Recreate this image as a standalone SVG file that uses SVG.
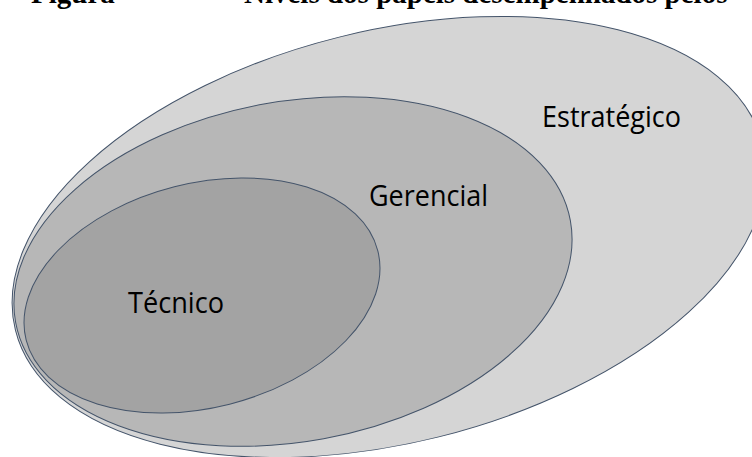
<svg xmlns="http://www.w3.org/2000/svg" width="752" height="457" viewBox="0 0 752 457">
<style>
.ell{stroke:#44546a;stroke-width:1}
.lbl{font-family:"Open Sans","Liberation Sans",sans-serif;font-size:29px;fill:#000}
.title{font-family:"Liberation Serif","Times New Roman",serif;font-size:29px;font-weight:bold;fill:#000}
</style>
<rect width="752" height="457" fill="#fff"/>
<text class="title" x="31" y="3">Figura<tspan x="244">Níveis dos papéis desempenhados pelos</tspan></text>
<g id="estrategico">
<ellipse class="ell" cx="389" cy="237" rx="385" ry="206" transform="rotate(-14 389 237)" fill="#d5d5d5"/>
<text class="lbl" x="542" y="127" textLength="139" lengthAdjust="spacingAndGlyphs">Estratégico</text>
</g>
<g id="gerencial">
<ellipse class="ell" cx="293" cy="271.5" rx="282" ry="170" transform="rotate(-10.4 293 271.5)" fill="#b7b7b7"/>
<text class="lbl" x="369" y="206" textLength="119" lengthAdjust="spacingAndGlyphs">Gerencial</text>
</g>
<g id="tecnico">
<ellipse class="ell" cx="202" cy="295.5" rx="181.4" ry="112.1" transform="rotate(-14.25 202 295.5)" fill="#a3a3a3"/>
<text class="lbl" x="128" y="313" textLength="96" lengthAdjust="spacingAndGlyphs">Técnico</text>
</g>
<g id="connectors"/>
</svg>
